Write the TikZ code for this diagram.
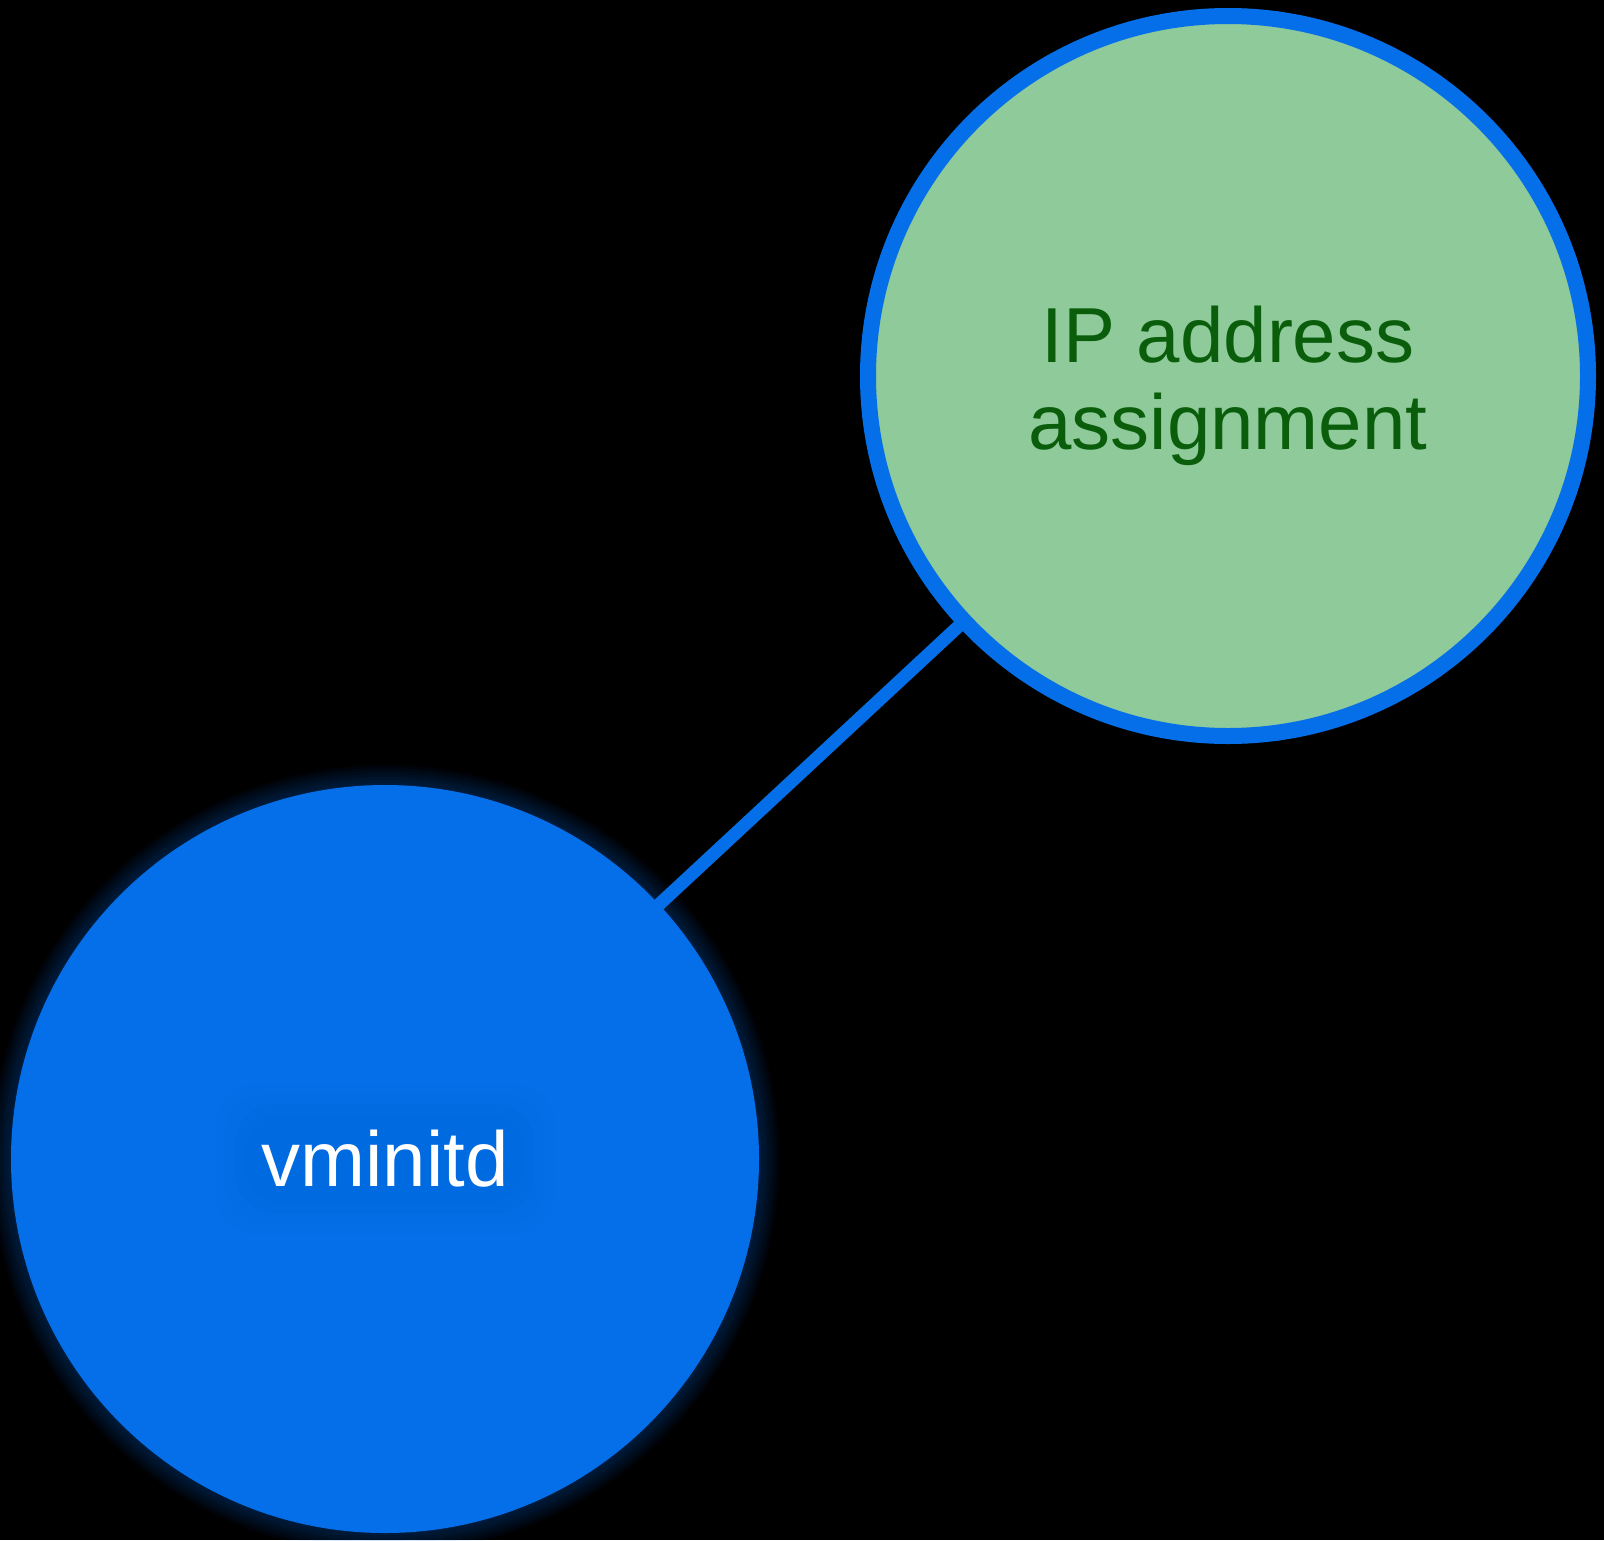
\documentclass[tikz,border=0pt]{standalone}
\usepackage{fontspec}
\setmainfont{Liberation Sans}
\usetikzlibrary{calc}
\definecolor{nodeblue}{HTML}{046FE8}
\definecolor{ipgreen}{HTML}{8FCA9A}
\definecolor{ipText}{HTML}{0A5E0B}
\pgfdeclarelayer{back}
\pgfdeclarelayer{mid}
\pgfsetlayers{back,mid,main}
\tikzset{
  ipnode/.style={circle, draw=nodeblue, line width=16pt, fill=ipgreen, minimum size=720pt, inner sep=0pt},
  iplabel/.style={text=ipText, align=center, inner sep=0pt, font=\fontsize{78}{87}\selectfont},
  vmnode/.style={circle, fill=nodeblue, minimum size=748pt, inner sep=0pt, outer sep=0pt},
  vmlabelstyle/.style={text=white, inner sep=0pt, font=\fontsize{78}{87}\selectfont},
  link/.style={draw=nodeblue, line width=13pt}
}
\begin{document}
\begin{tikzpicture}[x=1pt,y=-1pt]
\begin{pgfonlayer}{back}
\fill[black] (0,0) rectangle (1604,1540);
\end{pgfonlayer}
\useasboundingbox (0,0) rectangle (1604,1540);
\node[ipnode] (ip) at (1228,376) {};
\node[iplabel] (iptext) at ($(ip.center)+(0,10)$) {IP address\\assignment};
\node[vmnode] (vm) at (385,1159) {};
\begin{pgfonlayer}{mid}
\foreach \r in {376,379,382,385,388,391,394}
  \fill[nodeblue, opacity=0.045] (vm.center) circle[radius=\r];
\draw[link] (vm.center) -- (ip.center);
\end{pgfonlayer}
\foreach \d in {0,10,20,30}
  \fill[black, opacity=0.008, rounded corners=40pt] ($(vm.center)+(-170+\d,-75+\d)$) rectangle ($(vm.center)+(170-\d,75-\d)$);
\node[vmlabelstyle] (vmlabel) at (vm.center) {vminitd};
\end{tikzpicture}
\end{document}
